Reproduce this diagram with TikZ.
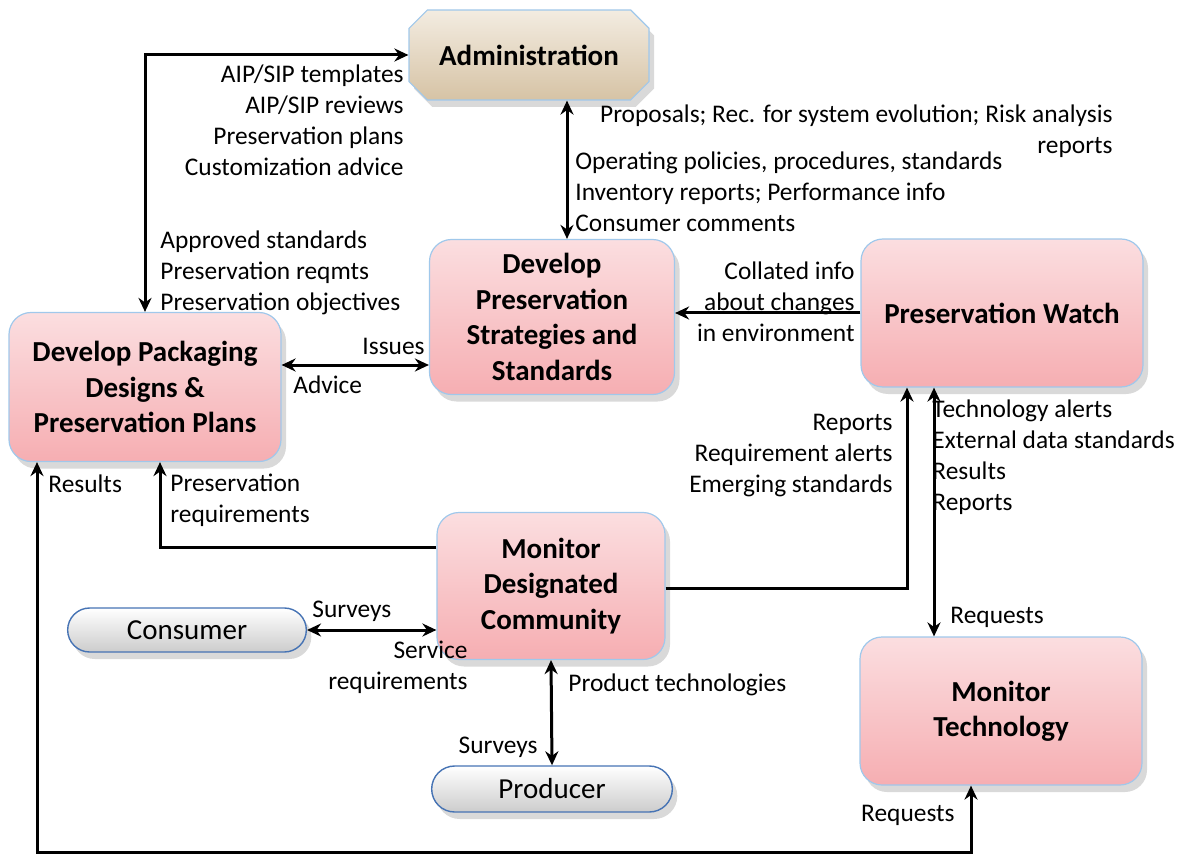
\documentclass[tikz,border=0pt]{standalone}
\usepackage{fontspec}
\setmainfont{Carlito}
\usepackage{tikz}
\usetikzlibrary{arrows.meta,shapes.misc,shadows}
\definecolor{pinkTop}{RGB}{251,222,224}
\definecolor{pinkMid}{RGB}{250,208,210}
\definecolor{pinkBot}{RGB}{246,174,178}
\definecolor{tanTop}{RGB}{243,236,225}
\definecolor{tanBot}{RGB}{214,195,165}
\definecolor{rimBlue}{RGB}{160,200,235}
\definecolor{pillRim}{RGB}{70,115,180}
\tikzset{
  boxshadow/.style={drop shadow={opacity=0.3,shadow xshift=2.5pt,shadow yshift=-3.5pt}},
  proc/.style={boxshadow,draw=rimBlue,line width=0.6pt,rounded corners=11pt,
    top color=pinkTop,middle color=pinkMid,bottom color=pinkBot,
    align=center,font=\bfseries\fontsize{14.5}{17.7}\selectfont},
  adminbox/.style={boxshadow,chamfered rectangle,chamfered rectangle xsep=6pt,draw=rimBlue,line width=0.6pt,
    top color=tanTop,bottom color=tanBot,font=\bfseries\fontsize{14.5}{17.7}\selectfont},
  pill/.style={boxshadow,rounded rectangle,draw=pillRim,line width=0.7pt,
    top color=white,bottom color=black!20,font=\fontsize{14.5}{17.7}\selectfont},
  lbl/.style={inner sep=0pt,font=\fontsize{12.7}{15.5}\selectfont},
  flow/.style={line width=1.5pt,-{Stealth[length=7pt,width=6.5pt]}},
  flowboth/.style={line width=1.5pt,{Stealth[length=7pt,width=6.5pt]}-{Stealth[length=7pt,width=6.5pt]}}
}
\begin{document}
\begin{tikzpicture}[x=0.5pt,y=-0.5pt]
    \useasboundingbox (0,0) rectangle (1187,855);
    \node[adminbox,minimum width=120pt,minimum height=45pt] (admin) at (529,55) {Administration};
    \node[proc,minimum width=136pt,minimum height=74.5pt] (dpd) at (145,387) {Develop Packaging\\Designs \&\\Preservation Plans};
    \node[proc,minimum width=122.5pt,minimum height=77.5pt] (dps) at (552,317) {Develop\\Preservation\\Strategies and\\Standards};
    \node[proc,minimum width=141pt,minimum height=74pt] (pw) at (1002,313) {Preservation Watch};
    \node[proc,minimum width=114pt,minimum height=73.5pt] (mdc) at (551,586) {Monitor\\Designated\\Community};
    \node[proc,minimum width=141pt,minimum height=74pt] (mt) at (1001,711) {Monitor\\Technology};
    \node[pill,minimum width=126pt,minimum height=22pt] (cons) at (187,630) {Consumer};
    \node[pill,minimum width=127pt,minimum height=23pt] (prod) at (552,789) {Producer};
    \coordinate (xAdm) at (567,0);
    \coordinate (yIss) at (0,365);
    \coordinate (mdcOut) at (160,547);
    \coordinate (mdcUp) at (907,588);
    \coordinate (xTech) at (934,0);
    \coordinate (loopL) at (37,852);
    \coordinate (loopR) at (971,852);
    \draw[flowboth] (admin.west) -| (dpd.north);
    \draw[flowboth] (admin.south -| xAdm) -- (dps.north -| xAdm);
    \draw[flowboth] (dpd.east |- yIss) -- (dps.west |- yIss);
    \draw[flow] (pw.west) -- (pw.west -| dps.east);
    \draw[flow] (mdc.west |- mdcOut) -- (mdcOut) -- (dpd.south -| mdcOut);
    \draw[flow] (mdc.east |- mdcUp) -- (mdcUp) -- (pw.south -| mdcUp);
    \draw[flowboth] (pw.south -| xTech) -- (mt.north -| xTech);
    \draw[flowboth] (cons.east) -- (cons.east -| mdc.west);
    \draw[flowboth] (mdc.south) -- (prod.north);
    \draw[flowboth] (dpd.south -| loopL) -- (loopL) -- (loopR) -- (mt.south -| loopR);
    \node[lbl,anchor=north east,align=right] (tmpl) at (404,64) {AIP/SIP templates\\AIP/SIP reviews\\Preservation plans\\Customization advice};
    \node[lbl,anchor=north west,align=left] (apprv) at (160,230) {Approved standards\\Preservation reqmts\\Preservation objectives};
    \node[lbl,anchor=north east,align=right] (prop) at (1113,104) {Proposals; Rec. for system evolution; Risk analysis\\reports};
    \node[lbl,anchor=north west,align=left] (oper) at (575,151) {Operating policies, procedures, standards\\Inventory reports; Performance info\\Consumer comments};
    \node[lbl,anchor=north east,align=right] (coll) at (855,261) {Collated info\\about changes\\in environment};
    \node[lbl,anchor=north east] (iss) at (425,338) {Issues};
    \node[lbl,anchor=north west] (adv) at (293,375) {Advice};
    \node[lbl,anchor=north west] (res) at (48,474) {Results};
    \node[lbl,anchor=north west,align=left] (preq) at (170,474) {Preservation\\requirements};
    \node[lbl,anchor=north east,align=right] (rep) at (893,414) {Reports\\Requirement alerts\\Emerging standards};
    \node[lbl,anchor=north west,align=left] (techal) at (932,399) {Technology alerts\\External data standards\\Results\\Reports};
    \node[lbl,anchor=north west] (req1) at (950,607) {Requests};
    \node[lbl,anchor=north west] (surv1) at (312,601) {Surveys};
    \node[lbl,anchor=north east,align=right] (serv) at (468,641) {Service\\requirements};
    \node[lbl,anchor=north west] (ptech) at (568,673) {Product technologies};
    \node[lbl,anchor=north east] (surv2) at (538,737) {Surveys};
    \node[lbl,anchor=north east] (req2) at (955,805) {Requests};
\end{tikzpicture}
\end{document}
